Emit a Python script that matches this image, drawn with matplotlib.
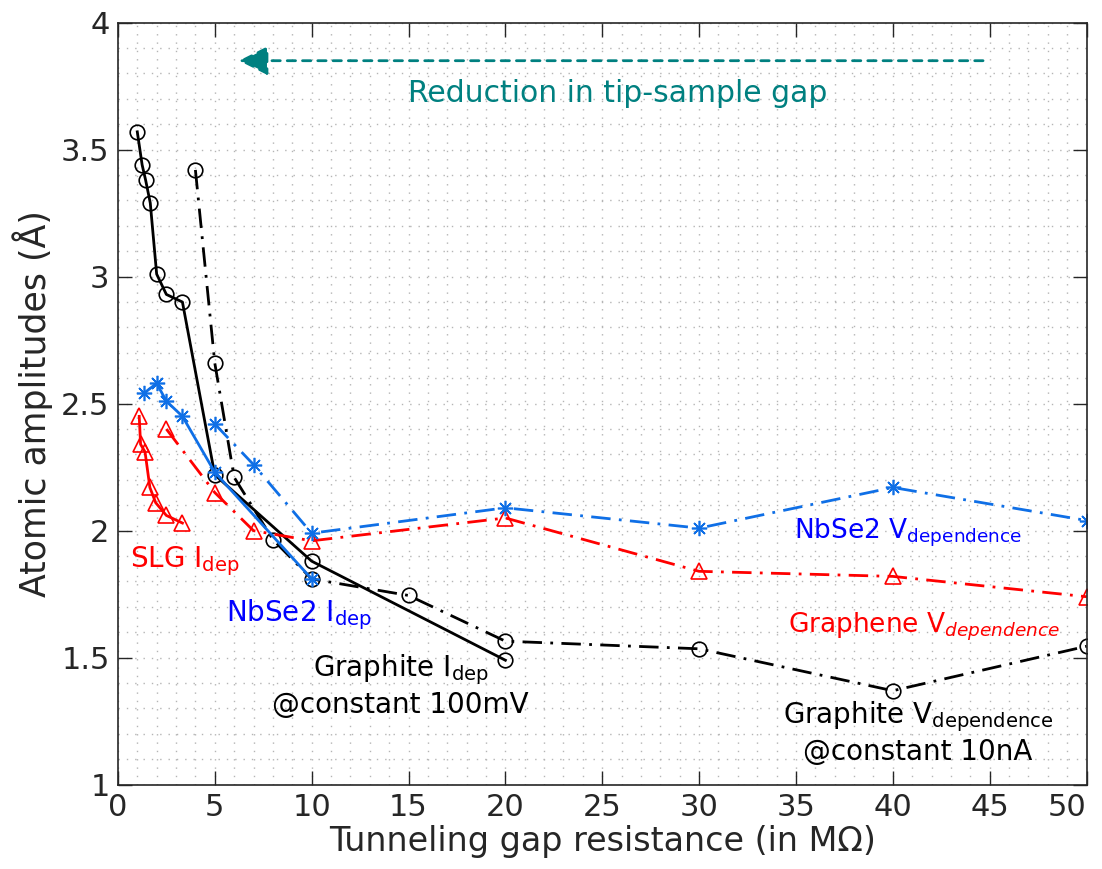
import matplotlib
matplotlib.use('Agg')
import matplotlib.pyplot as plt
from matplotlib.ticker import MultipleLocator

# Graphite, current dependence @ 100 mV
gr_i_x = [1.0, 1.25, 1.43, 1.67, 2.0, 2.5, 3.33, 5.0, 10.0, 20.0]
gr_i_y = [3.57, 3.44, 3.38, 3.29, 3.01, 2.93, 2.90, 2.22, 1.88, 1.49]
# Graphite, voltage dependence @ 10 nA
gr_v_x = [4.0, 5.0, 6.0, 8.0, 10.0, 15.0, 20.0, 30.0, 40.0, 50.0]
gr_v_y = [3.42, 2.66, 2.21, 1.965, 1.81, 1.745, 1.565, 1.535, 1.37, 1.545]
# NbSe2
nb_i_x = [1.33, 2.0, 2.5, 3.33, 5.0, 10.0]
nb_i_y = [2.54, 2.58, 2.51, 2.45, 2.23, 1.81]
nb_v_x = [5.0, 7.0, 10.0, 20.0, 30.0, 40.0, 50.0]
nb_v_y = [2.42, 2.26, 1.99, 2.09, 2.01, 2.17, 2.04]
# SLG / graphene
slg_i_x = [1.1, 1.17, 1.4, 1.65, 1.95, 2.5, 3.33]
slg_i_y = [2.45, 2.34, 2.31, 2.17, 2.11, 2.06, 2.03]
gn_v_x = [2.5, 5.0, 7.0, 10.0, 20.0, 30.0, 40.0, 50.0]
gn_v_y = [2.40, 2.15, 2.00, 1.96, 2.05, 1.84, 1.82, 1.74]

xticks = [0, 5, 10, 15, 20, 25, 30, 35, 40, 45, 50]
yticks = [1, 1.5, 2, 2.5, 3, 3.5, 4]
ytick_labels = ['1', '1.5', '2', '2.5', '3', '3.5', '4']

plt.rcParams['font.family'] = ['DejaVu Sans']
plt.rcParams['mathtext.fontset'] = 'dejavusans'

blue_line = '#0f6fe6'
teal = '#008080'
dashdot = (0, (7, 3, 1, 3))
asterisk = (8, 2, 0)

fig = plt.figure(figsize=(11.02, 8.69), dpi=100)
ax = fig.add_axes([0.107, 0.097, 0.879, 0.877])

# black series
ax.plot(gr_v_x, gr_v_y, color='black', lw=2, linestyle=dashdot, marker='o',
        ms=10.5, mfc='none', mew=1.2)
ax.plot(gr_i_x, gr_i_y, color='black', lw=2, marker='o', ms=10.5, mfc='none', mew=1.2)
# red series
ax.plot(gn_v_x, gn_v_y, color='red', lw=2, linestyle=dashdot, marker='^',
        ms=11, mfc='none', mew=1.2)
ax.plot(slg_i_x, slg_i_y, color='red', lw=2, marker='^', ms=11, mfc='none', mew=1.2)
# blue series
ax.plot(nb_v_x, nb_v_y, color=blue_line, lw=2, linestyle=dashdot, marker=asterisk,
        ms=11, mew=1.2)
ax.plot(nb_i_x, nb_i_y, color=blue_line, lw=2, marker=asterisk, ms=11, mew=1.2)

ax.set_xlim(0, 50)
ax.set_ylim(1, 4)
ax.set_xticks(xticks)
ax.set_yticks(yticks)
ax.set_yticklabels(ytick_labels)
ax.xaxis.set_minor_locator(MultipleLocator(1))
ax.yaxis.set_minor_locator(MultipleLocator(0.1))
ax.grid(which='both', color='#b5b5b5', linestyle=(0, (1, 5)), lw=1)
ax.set_axisbelow(True)
ax.tick_params(which='major', direction='in', length=10, width=1,
               top=True, right=True, labelsize=22, colors='#262626', pad=6)
ax.tick_params(which='minor', length=0)
ax.get_xticklabels()[-1].set_ha('right')
for s in ax.spines.values():
    s.set_color('#262626')
    s.set_linewidth(1.2)

ax.set_xlabel('Tunneling gap resistance (in M\u03a9)', fontsize=24, color='#262626', labelpad=2)
ax.set_ylabel('Atomic amplitudes (\u00c5)', fontsize=25, color='#262626', labelpad=6)

# arrow
ax.annotate('', xy=(6.1, 3.85), xytext=(44.8, 3.85),
            arrowprops=dict(arrowstyle='-|>,head_length=0.9,head_width=0.45',
                            mutation_scale=20, color=teal, lw=2,
                            linestyle=(0, (3, 2.5))))
ax.text(25.8, 3.72, 'Reduction in tip-sample gap', color=teal, fontsize=21.5,
        ha='center', va='center')

ax.text(0.6, 1.88, r'SLG I$_{\mathrm{dep}}$', color='red', fontsize=20, va='center')
ax.text(5.6, 1.67, r'NbSe2 I$_{\mathrm{dep}}$', color='blue', fontsize=20, va='center')
ax.text(14.6, 1.39, 'Graphite I$_{\\mathrm{dep}}$\n@constant 100mV', color='black',
        fontsize=20, ha='center', va='center', linespacing=1.2)
ax.text(40.8, 1.99, r'NbSe2 V$_{\mathrm{dependence}}$', color='blue', fontsize=19,
        ha='center', va='center')
ax.text(41.6, 1.62, r'Graphene V$_{dependence}$', color='red', fontsize=19,
        ha='center', va='center')
ax.text(41.3, 1.205, 'Graphite V$_{\\mathrm{dependence}}$\n@constant 10nA', color='black',
        fontsize=20, ha='center', va='center', linespacing=1.2)

fig.savefig('out.png', dpi=100)
